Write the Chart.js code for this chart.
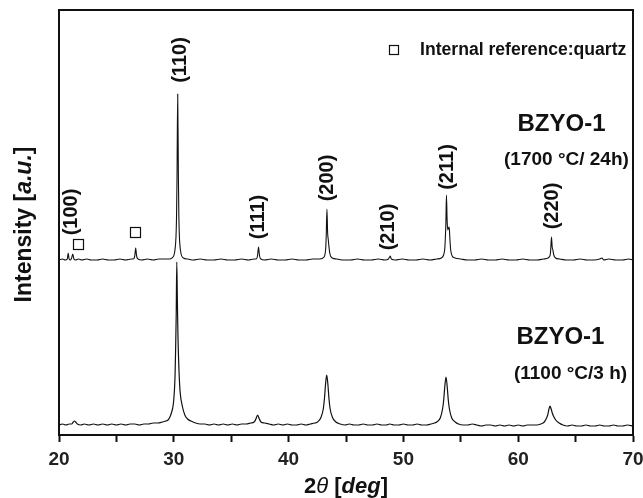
<!DOCTYPE html>
<html><head><meta charset="utf-8">
<script src="https://cdn.jsdelivr.net/npm/chart.js@4.4.0/dist/chart.umd.min.js"></script>
<style>html,body{margin:0;padding:0;background:#fff;overflow:hidden}</style>
</head><body>
<canvas id="c" width="643" height="498" style="width:643px;height:498px;display:block"></canvas>
<script>
// ---------- data (2θ in degrees, intensity in arbitrary units, offset-stacked) ----------
const xTickLabels = [20, 30, 40, 50, 60, 70];

// BZYO-1, 1700 °C / 24 h  (upper trace)
const scan1700 = [
 [20.0,175],[20.3,176],[20.55,175],[20.72,176],[20.8,182],[20.88,176],[21.0,175],[21.1,177],[21.2,181],[21.3,176],
 [21.45,175],[21.7,176],[22.0,175],[22.4,176],[22.8,175],[23.3,175],[23.8,176],[24.3,175],[24.8,175],[25.3,176],
 [25.8,175],[26.3,176],[26.48,176],[26.58,178],[26.62,181],[26.68,187],[26.74,181],[26.78,178],[26.88,176],[27.2,175],
 [27.7,176],[28.2,175],[28.7,176],[29.2,176],[29.6,176],[29.84,177],[30.09,184],[30.19,198],[30.24,219],[30.28,258],
 [30.34,341],[30.40,258],[30.44,219],[30.49,198],[30.59,184],[30.84,177],[31.2,176],[31.7,175],[32.3,176],[32.9,175],
 [33.5,175],[34.1,176],[34.7,175],[35.3,175],[35.9,176],[36.5,175],[37.0,176],[37.18,176],[37.28,178.5],[37.32,182],
 [37.38,188],[37.44,182],[37.48,178.5],[37.58,176],[37.9,175],[38.5,176],[39.1,175],[39.7,175],[40.3,176],[40.9,175],
 [41.5,175],[42.1,176],[42.7,176],[43.09,178],[43.19,182],[43.24,188],[43.28,200],[43.34,226],[43.40,202],[43.45,196],
 [43.5,190],[43.6,181],[43.8,177],[44.2,176],[44.8,175],[45.4,175],[46.0,176],[46.6,175],[47.2,175],[47.8,176],
 [48.4,175],[48.7,176],[48.8,178],[48.86,179],[48.95,176],[49.3,175],[49.9,176],[50.5,175],[51.1,175],[51.7,176],
 [52.3,175],[52.9,176],[53.3,177],[53.5,180],[53.6,186],[53.65,196],[53.7,212],[53.75,240],[53.81,214],[53.87,205],
 [53.93,207],[53.99,208],[54.05,196],[54.12,185],[54.25,179],[54.5,177],[55.0,176],[55.6,175],[56.2,175],[56.8,176],
 [57.4,175],[58.0,175],[58.6,176],[59.2,175],[59.8,175],[60.4,176],[61.0,175],[61.6,175],[62.2,176],[62.6,177],
 [62.75,179],[62.8,181],[62.84,187],[62.9,198],[62.96,188],[63.02,185],[63.1,180],[63.25,177],[63.6,176],[64.2,175],
 [64.8,175],[65.4,176],[66.0,175],[66.6,175],[67.1,176],[67.3,177],[67.45,175],[67.9,176],[68.5,175],[69.1,175],
 [69.6,176],[70.0,175]
];

// BZYO-1, 1100 °C / 3 h  (lower trace)
const scan1100 = [
 [20.0,10],[20.3,11],[20.6,10],[20.9,11],[21.1,11],[21.25,13],[21.35,14],[21.45,13],[21.6,11],[21.9,10],
 [22.2,11],[22.6,10],[23.0,11],[23.4,10],[23.8,11],[24.2,10],[24.6,11],[25.0,10],[25.4,11],[25.8,10],
 [26.2,11],[26.6,11],[27.0,10],[27.4,11],[27.8,11],[28.2,12],[28.6,12],[29.0,13],[29.3,14],[29.5,15],
 [29.66,18],[29.76,21],[29.96,31],[30.06,46],[30.11,60],[30.16,87],[30.21,120],[30.26,173],[30.31,135],[30.36,100],
 [30.46,62],[30.56,42],[30.76,28],[30.96,20],[31.2,16],[31.5,14],[31.9,12],[32.3,11],[32.7,11],[33.1,10],
 [33.5,11],[33.9,10],[34.3,11],[34.7,10],[35.1,11],[35.5,10],[35.9,11],[36.3,11],[36.7,12],[37.0,13],
 [37.15,16],[37.3,20],[37.45,16],[37.6,13],[37.9,12],[38.3,11],[38.7,10],[39.1,11],[39.5,10],[39.9,11],
 [40.3,10],[40.7,10],[41.1,11],[41.5,10],[41.9,11],[42.3,12],[42.52,13],[42.82,17.5],[43.02,26],[43.12,36],
 [43.22,51],[43.32,60],[43.42,51],[43.52,36],[43.62,26],[43.82,17.5],[44.12,13],[44.5,11],[44.9,10],[45.3,11],
 [45.7,10],[46.1,10],[46.5,11],[46.9,10],[47.3,10],[47.7,11],[48.1,10],[48.5,10],[48.8,11],[49.2,10],
 [49.6,10],[50.0,11],[50.4,10],[50.8,10],[51.2,11],[51.6,10],[52.0,10],[52.4,11],[52.7,12],[52.91,13],
 [53.21,17],[53.41,26],[53.51,35],[53.61,49],[53.71,58],[53.81,49],[53.91,35],[54.01,26],[54.21,17],[54.51,13],
 [54.8,11],[55.2,10],[55.6,10],[56.0,11],[56.4,10],[56.8,9],[57.2,10],[57.6,10],[58.0,9],[58.4,10],
 [58.8,9],[59.2,10],[59.6,9],[60.0,10],[60.4,9],[60.8,10],[61.2,10],[61.6,10],[61.97,11],[62.27,13],
 [62.47,17],[62.57,20],[62.67,25.5],[62.77,29],[62.87,26],[62.97,22],[63.07,19],[63.27,15],[63.57,12],[63.9,10],
 [64.3,9],[64.7,10],[65.1,9],[65.5,9],[65.9,10],[66.3,9],[66.7,9],[67.1,10],[67.5,9],[67.9,9],
 [68.3,10],[68.7,9],[69.1,9],[69.5,10],[70.0,9]
];

// Miller-index labels (anchored at 2θ, intensity)
const hklLabels = ['(100)', '(110)', '(111)', '(200)', '(210)', '(211)', '(220)'];
const hklTheta  = [21.09, 30.54, 37.42, 43.35, 48.66, 53.80, 62.95];
const hklLevel  = [223, 375, 218, 257, 208, 268, 229];

// quartz (internal reference) markers
const quartzTheta = [21.66, 26.62];
const quartzLevel = [191, 203];

const legendText = 'Internal reference:quartz';
const sampleNames = ['BZYO-1', 'BZYO-1'];
const sampleConds = ['(1700 \u00B0C/ 24h)', '(1100 \u00B0C/3 h)'];

// ---------- chart ----------
const FAM = '"Liberation Sans", Arial, Helvetica, sans-serif';
const INK = '#111';

function runs(ctx, parts, cx, cy, rot) {
  ctx.save();
  ctx.translate(cx, cy);
  if (rot) ctx.rotate(rot);
  ctx.textBaseline = 'middle';
  ctx.textAlign = 'left';
  let w = 0;
  parts.forEach(p => { ctx.font = p.f; w += ctx.measureText(p.t).width; });
  let x = -w / 2;
  parts.forEach(p => { ctx.font = p.f; ctx.fillText(p.t, x, 0); x += ctx.measureText(p.t).width; });
  ctx.restore();
}

const decor = {
  id: 'decor',
  afterDraw(chart) {
    const {ctx, chartArea: a, scales: {x, y}} = chart;
    ctx.save();
    ctx.fillStyle = INK; ctx.strokeStyle = INK;
    // frame top & right
    ctx.lineWidth = 2;
    ctx.beginPath();
    ctx.moveTo(a.left - 1, a.top); ctx.lineTo(a.right, a.top); ctx.lineTo(a.right, a.bottom + 1);
    ctx.stroke();

    // hkl labels
    hklLabels.forEach((t, i) => {
      runs(ctx, [{t, f: 'bold 20px ' + FAM}], x.getPixelForValue(hklTheta[i]), y.getPixelForValue(hklLevel[i]), -Math.PI / 2);
    });
    // quartz squares
    ctx.lineWidth = 1.2;
    quartzTheta.forEach((t, i) => {
      const px = x.getPixelForValue(t), py = y.getPixelForValue(quartzLevel[i]);
      ctx.strokeRect(Math.round(px - 5) + 0.5, Math.round(py - 5) + 0.5, 10, 10);
    });
    // legend
    const lx = x.getPixelForValue(49.14), ly = y.getPixelForValue(386);
    ctx.strokeRect(Math.round(lx - 4.5) + 0.5, Math.round(ly - 4.5) + 0.5, 9, 9);
    ctx.font = 'bold 17.6px ' + FAM; ctx.textAlign = 'left'; ctx.textBaseline = 'middle';
    ctx.fillText(legendText, x.getPixelForValue(51.45), y.getPixelForValue(385));

    // sample labels
    const nameLv = [311, 98], condLv = [275, 61], nameX = [63.77, 63.68], condX = [64.2, 64.56];
    sampleNames.forEach((s, i) => {
      runs(ctx, [{t: s, f: 'bold 24px ' + FAM}], x.getPixelForValue(nameX[i]), y.getPixelForValue(nameLv[i]), 0);
      runs(ctx, [{t: sampleConds[i], f: 'bold 19px ' + FAM}], x.getPixelForValue(condX[i]), y.getPixelForValue(condLv[i]), 0);
    });

    // axis titles
    runs(ctx, [
      {t: '2', f: 'bold 22px ' + FAM},
      {t: '\u03B8', f: 'italic 22px ' + FAM},
      {t: ' [', f: 'bold 22px ' + FAM},
      {t: 'deg', f: 'italic bold 22px ' + FAM},
      {t: ']', f: 'bold 22px ' + FAM}
    ], (a.left + a.right) / 2, 487, 0);
    runs(ctx, [
      {t: 'Intensity [', f: 'bold 23px ' + FAM},
      {t: 'a.u.', f: 'italic bold 23px ' + FAM},
      {t: ']', f: 'bold 23px ' + FAM}
    ], 25, (a.top + a.bottom) / 2 + 2, -Math.PI / 2);
    ctx.restore();
  }
};

const toPts = arr => arr.map(p => ({x: p[0], y: p[1]}));

new Chart(document.getElementById('c'), {
  type: 'line',
  data: {
    datasets: [
      {label: 'BZYO-1 (1700 °C/ 24h)', data: toPts(scan1700), borderColor: INK, borderWidth: 1.1, pointRadius: 0, cubicInterpolationMode: 'monotone', fill: false},
      {label: 'BZYO-1 (1100 °C/3 h)', data: toPts(scan1100), borderColor: INK, borderWidth: 1.2, pointRadius: 0, cubicInterpolationMode: 'monotone', fill: false}
    ]
  },
  options: {
    responsive: false,
    animation: false,
    devicePixelRatio: 1,
    layout: {padding: {top: 10, right: 10, left: 0, bottom: 0}},
    plugins: {legend: {display: false}, tooltip: {enabled: false}},
    scales: {
      x: {
        type: 'linear', min: 20, max: 70, position: 'bottom',
        afterFit(s) { s.height = 63; s.paddingLeft = 0; s.paddingRight = 0; },
        ticks: {
          stepSize: 5, autoSkip: false, maxRotation: 0, padding: 6, color: '#222',
          font: {family: FAM, size: 19, weight: 'bold'},
          callback: v => xTickLabels.includes(v) ? String(v) : ''
        },
        grid: {drawOnChartArea: false, drawTicks: true, tickLength: 7, tickWidth: 2, tickColor: INK},
        border: {display: true, color: INK, width: 2}
      },
      y: {
        min: 0, max: 425,
        afterFit(s) { s.width = 59; },
        ticks: {display: false},
        grid: {display: false},
        border: {display: true, color: INK, width: 2}
      }
    }
  },
  plugins: [decor]
});
</script>
</body></html>
